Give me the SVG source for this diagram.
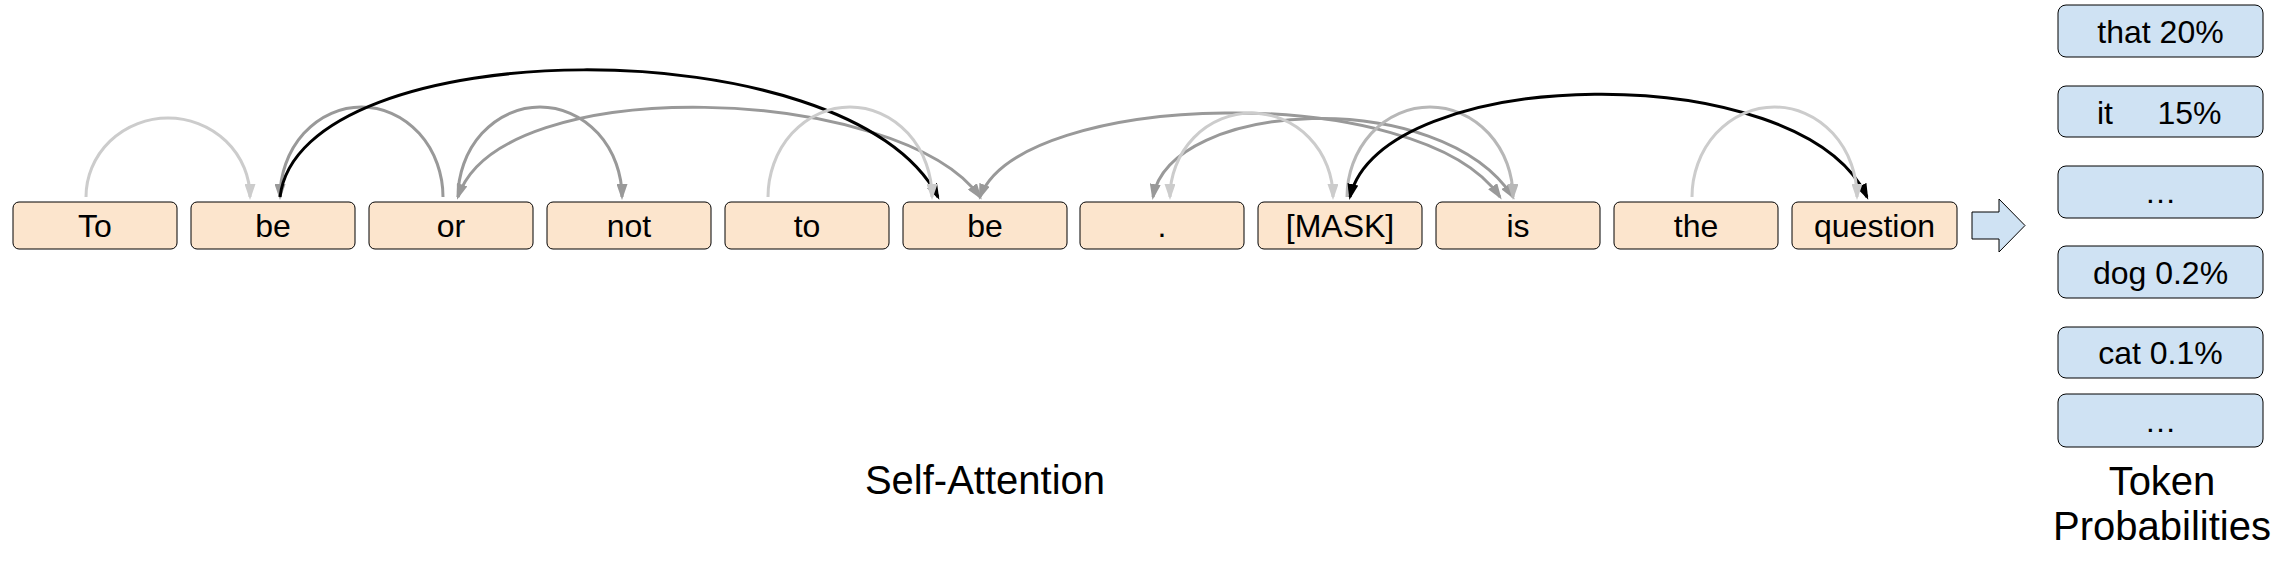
<svg xmlns="http://www.w3.org/2000/svg" width="2280" height="563" viewBox="0 0 2280 563">
<style>
.tok rect{fill:#fce5cd;stroke:#000;stroke-width:1}
.prob rect{fill:#cfe2f3;stroke:#000;stroke-width:1}
text{font-family:"Liberation Sans",Arial,sans-serif;fill:#000}
.tok text,.prob text{font-size:32px;text-anchor:middle}
.lbl{font-size:40px;text-anchor:middle}
.arc{fill:none;stroke-width:3}
.c1{stroke:#cccccc}.c2{stroke:#b7b7b7}.c3{stroke:#999999}.c4{stroke:#000000}
</style>
<defs>
<marker id="ah1" viewBox="0 0 16 11" refX="13" refY="5.5" markerWidth="16" markerHeight="11" markerUnits="userSpaceOnUse" orient="auto-start-reverse"><path d="M0,0 L16,5.5 L0,11 z" fill="#cccccc"/></marker>
<marker id="ah2" viewBox="0 0 16 11" refX="13" refY="5.5" markerWidth="16" markerHeight="11" markerUnits="userSpaceOnUse" orient="auto-start-reverse"><path d="M0,0 L16,5.5 L0,11 z" fill="#b7b7b7"/></marker>
<marker id="ah3" viewBox="0 0 16 11" refX="13" refY="5.5" markerWidth="16" markerHeight="11" markerUnits="userSpaceOnUse" orient="auto-start-reverse"><path d="M0,0 L16,5.5 L0,11 z" fill="#999999"/></marker>
<marker id="ah4" viewBox="0 0 16 11" refX="13" refY="5.5" markerWidth="16" markerHeight="11" markerUnits="userSpaceOnUse" orient="auto-start-reverse"><path d="M0,0 L16,5.5 L0,11 z" fill="#000000"/></marker>
</defs>
<g id="tok-0" class="tok"><rect x="13" y="202" width="164" height="47" rx="6"/><text x="95" y="237">To</text></g>
<g id="tok-1" class="tok"><rect x="191" y="202" width="164" height="47" rx="6"/><text x="273" y="237">be</text></g>
<g id="tok-2" class="tok"><rect x="369" y="202" width="164" height="47" rx="6"/><text x="451" y="237">or</text></g>
<g id="tok-3" class="tok"><rect x="547" y="202" width="164" height="47" rx="6"/><text x="629" y="237">not</text></g>
<g id="tok-4" class="tok"><rect x="725" y="202" width="164" height="47" rx="6"/><text x="807" y="237">to</text></g>
<g id="tok-5" class="tok"><rect x="903" y="202" width="164" height="47" rx="6"/><text x="985" y="237">be</text></g>
<g id="tok-6" class="tok"><rect x="1080" y="202" width="164" height="47" rx="6"/><text x="1162" y="237">.</text></g>
<g id="tok-7" class="tok"><rect x="1258" y="202" width="164" height="47" rx="6"/><text x="1340" y="237">[MASK]</text></g>
<g id="tok-8" class="tok"><rect x="1436" y="202" width="164" height="47" rx="6"/><text x="1518" y="237">is</text></g>
<g id="tok-9" class="tok"><rect x="1614" y="202" width="164" height="47" rx="6"/><text x="1696" y="237">the</text></g>
<g id="tok-10" class="tok"><rect x="1792" y="202" width="165" height="47" rx="6"/><text x="1874.5" y="237">question</text></g>
<g id="connectors">
<path class="arc c3" d="M443,197 A81.5,90 0 0 0 280,197" marker-end="url(#ah3)"/>
<path class="arc c3" d="M458,197 A82,90 0 0 1 622,197" marker-end="url(#ah3)"/>
<path class="arc c3" d="M458,197 C500,70 900,85 980,197" marker-start="url(#ah3)" marker-end="url(#ah3)"/>
<path class="arc c3" d="M980,197 C1020,90 1420,80 1500,197" marker-start="url(#ah3)" marker-end="url(#ah3)"/>
<path class="arc c3" d="M1153,197 C1170,100 1440,85 1513,197" marker-start="url(#ah3)" marker-end="url(#ah3)"/>
<path class="arc c2" d="M1347,197 A83,90 0 0 1 1513,197" marker-end="url(#ah2)"/>
<path class="arc c4" d="M280,197 C300,30 850,25 938,197" marker-end="url(#ah4)"/>
<path class="arc c4" d="M1350,197 C1380,65 1800,55 1867,197" marker-start="url(#ah4)" marker-end="url(#ah4)"/>
<path class="arc c1" d="M86,197 A82,79 0 0 1 250,197" marker-end="url(#ah1)"/>
<path class="arc c1" d="M768,197 A82,90 0 0 1 932,197" marker-end="url(#ah1)"/>
<path class="arc c1" d="M1170,197 A81.5,84 0 0 1 1333,197" marker-start="url(#ah1)" marker-end="url(#ah1)"/>
<path class="arc c1" d="M1692,197 A82.5,90 0 0 1 1857,197" marker-end="url(#ah1)"/>
</g>
<g id="block-arrow"><polygon points="1972,212 1999,212 1999,199 2025,225.5 1999,252 1999,239 1972,239" fill="#cfe2f3" stroke="#000" stroke-width="1"/></g>
<g id="prob-0" class="prob"><rect x="2058" y="5" width="205" height="52" rx="8"/><text x="2160.5" y="43">that 20%</text></g>
<g id="prob-1" class="prob"><rect x="2058" y="86" width="205" height="51" rx="8"/><text x="2097" y="124" style="text-anchor:start" xml:space="preserve">it     15%</text></g>
<g id="prob-2" class="prob"><rect x="2058" y="166" width="205" height="52" rx="8"/><text x="2160.5" y="203">…</text></g>
<g id="prob-3" class="prob"><rect x="2058" y="246" width="205" height="52" rx="8"/><text x="2160.5" y="284">dog 0.2%</text></g>
<g id="prob-4" class="prob"><rect x="2058" y="327" width="205" height="51" rx="8"/><text x="2160.5" y="364">cat 0.1%</text></g>
<g id="prob-5" class="prob"><rect x="2058" y="394" width="205" height="53" rx="8"/><text x="2160.5" y="432">…</text></g>
<g id="label-self-attention"><text class="lbl" x="985" y="494">Self-Attention</text></g>
<g id="label-token-prob"><text class="lbl" x="2162" y="495">Token</text><text class="lbl" x="2162" y="540">Probabilities</text></g>
</svg>
